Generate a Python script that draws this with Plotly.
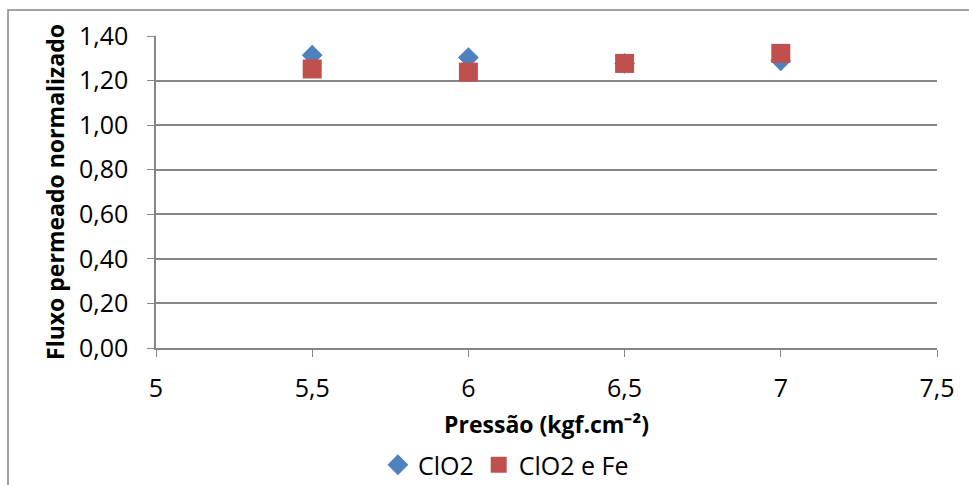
import plotly.graph_objects as go

pressao = [5.5, 6.0, 6.5, 7.0]
clo2 = [1.314, 1.303, 1.277, 1.289]
clo2_fe = [1.252, 1.238, 1.277, 1.322]

x_ticks = [5, 5.5, 6, 6.5, 7, 7.5]
x_ticklabels = ["5", "5,5", "6", "6,5", "7", "7,5"]
y_ticks = [0, 0.2, 0.4, 0.6, 0.8, 1.0, 1.2, 1.4]
y_ticklabels = ["0,00", "0,20", "0,40", "0,60", "0,80", "1,00", "1,20", "1,40"]

FONT = "Open Sans"
fig = go.Figure()
fig.add_trace(go.Scatter(x=pressao, y=clo2, mode="markers", name="ClO2",
                         marker=dict(symbol="diamond", size=16, color="#4F81BD",
                                     line=dict(width=0))))
fig.add_trace(go.Scatter(x=pressao, y=clo2_fe, mode="markers", name="ClO2 e Fe",
                         marker=dict(symbol="square", size=19, color="#C0504D",
                                     line=dict(width=0))))

fig.update_layout(
    width=969, height=485,
    margin=dict(l=156, r=32, t=36, b=137, autoexpand=False),
    paper_bgcolor="white", plot_bgcolor="white",
    font=dict(family=FONT, size=25, color="black"),
    showlegend=True,
    legend=dict(orientation="h", x=0.448, xanchor="center", y=-0.375, yanchor="middle",
                font=dict(family=FONT, size=25), itemwidth=30, tracegroupgap=0),
    xaxis=dict(range=[5, 7.5], tickvals=x_ticks, ticktext=x_ticklabels,
               showgrid=False, zeroline=False, showline=True, linecolor="#868686",
               linewidth=1.5, ticks="outside", ticklen=7, tickcolor="#868686",
               ticklabelstandoff=10,
               title=dict(text="<b>Pressão (kgf.cm⁻²)</b>", font=dict(family=FONT, size=23),
                          standoff=14),
               tickfont=dict(family=FONT, size=25)),
    yaxis=dict(range=[0, 1.4], tickvals=y_ticks, ticktext=y_ticklabels,
               showgrid=True, gridcolor="#868686", gridwidth=1.5, zeroline=False,
               showline=True, linecolor="#868686", linewidth=1.5,
               ticks="outside", ticklen=7, tickcolor="#868686",
               ticklabelstandoff=14,
               title=dict(text="<b>Fluxo permeado normalizado</b>", font=dict(family=FONT, size=23),
                          standoff=8),
               tickfont=dict(family=FONT, size=25)),
    shapes=[dict(type="rect", xref="paper", yref="paper",
                 x0=-148/781, x1=(969-156+2)/781, y0=-(485-348+10)/312, y1=(348-10)/312,
                 line=dict(color="#868686", width=1.5), fillcolor="rgba(0,0,0,0)", layer="below")],
)

fig.write_html("out.html")
